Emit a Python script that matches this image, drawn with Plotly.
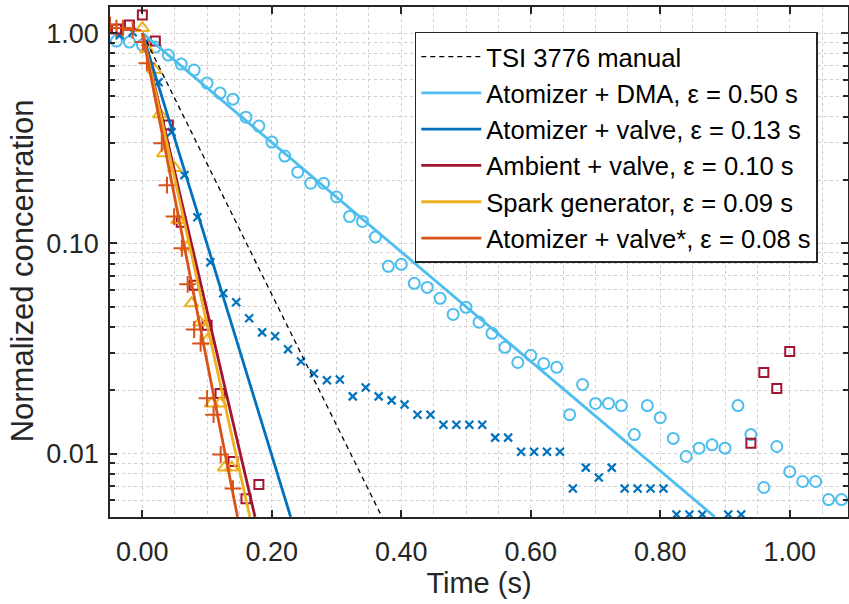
import plotly.graph_objects as go

# ---------------- data ----------------
# Atomizer + DMA (circles)
dma_t = [-0.04, -0.02, 0.00, 0.02, 0.04, 0.06, 0.08, 0.10, 0.12, 0.14, 0.16, 0.18, 0.20, 0.22, 0.24,
         0.26, 0.28, 0.30, 0.32, 0.34, 0.36, 0.38, 0.40, 0.42, 0.44, 0.46, 0.48, 0.50, 0.52, 0.54,
         0.56, 0.58, 0.60, 0.62, 0.64, 0.66, 0.68, 0.70, 0.72, 0.74, 0.76, 0.78, 0.80, 0.82, 0.84,
         0.86, 0.88, 0.90, 0.92, 0.94, 0.96, 0.98, 1.00, 1.02, 1.04, 1.06, 1.08]
dma_c = [0.916, 0.906, 0.877, 0.858, 0.786, 0.712, 0.667, 0.578, 0.518, 0.485, 0.398, 0.361, 0.303, 0.260, 0.218,
         0.193, 0.193, 0.166, 0.134, 0.127, 0.107, 0.0777, 0.0794, 0.0645, 0.0617, 0.0547, 0.0459, 0.0496, 0.0421, 0.0373,
         0.0320, 0.0271, 0.0293, 0.0268, 0.0257, 0.0153, 0.0213, 0.0173, 0.0173, 0.0169, 0.0123, 0.0169, 0.0148, 0.0118, 0.00968,
         0.0106, 0.0110, 0.0106, 0.0169, 0.0123, 0.00689, 0.0108, 0.00820, 0.00736, 0.00736, 0.00604, 0.00604]

# Atomizer + valve (x markers)
av_t = [-0.035, -0.015, 0.005, 0.025, 0.045, 0.065, 0.085, 0.105, 0.125, 0.145, 0.165, 0.185, 0.205, 0.225,
        0.245, 0.265, 0.285, 0.305, 0.325, 0.345, 0.365, 0.385, 0.405, 0.425, 0.445, 0.465, 0.485, 0.505,
        0.525, 0.545, 0.565, 0.585, 0.605, 0.625, 0.645, 0.665, 0.685, 0.705, 0.725, 0.745, 0.765, 0.785,
        0.805, 0.825, 0.845, 0.865, 0.905, 0.925]
av_c = [0.978, 1.01, 0.906, 0.584, 0.338, 0.211, 0.133, 0.0812, 0.0578, 0.0524, 0.0440, 0.0377, 0.0361, 0.0313,
        0.0274, 0.0240, 0.0223, 0.0225, 0.0187, 0.0206, 0.0187, 0.0179, 0.0171, 0.0153, 0.0153, 0.0137, 0.0137, 0.0137,
        0.0137, 0.0119, 0.0119, 0.0102, 0.0102, 0.0102, 0.0102, 0.00681, 0.00857, 0.00769, 0.00857, 0.00681, 0.00681, 0.00681,
        0.00681, 0.00513, 0.00513, 0.00513, 0.00513, 0.00513]

# Ambient + valve (squares)
amb_t = [-0.04, -0.02, 0.00, 0.02, 0.04, 0.06, 0.08, 0.10, 0.12, 0.14, 0.16, 0.18, 0.94, 0.96, 0.98, 1.00]
amb_c = [1.045, 1.092, 1.218, 0.916, 0.365, 0.126, 0.0631, 0.0407, 0.0193, 0.00916, 0.0061, 0.00712,
         0.0112, 0.0243, 0.0204, 0.0306]

# Spark generator (triangles)
sp_t = [0.000, 0.007, 0.019, 0.027, 0.033, 0.050, 0.055, 0.069, 0.076, 0.089, 0.100, 0.107, 0.120, 0.127, 0.138]
sp_c = [1.056, 0.839, 0.667, 0.411, 0.268, 0.228, 0.129, 0.0957, 0.0518, 0.0421, 0.0345, 0.0173, 0.0173, 0.00857, 0.00857]

# Atomizer + valve* (plus markers)
avs_t = [-0.05, -0.04, -0.03, -0.015, 0.001, 0.007, 0.030, 0.038, 0.049, 0.061, 0.070, 0.080, 0.090, 0.100,
         0.110, 0.121, 0.140]
avs_c = [1.092, 1.056, 1.056, 1.033, 0.906, 0.719, 0.299, 0.189, 0.134, 0.0947, 0.0638, 0.0389, 0.0334, 0.0183,
         0.0153, 0.00989, 0.00681]

# Fit lines: start and end points (where they leave the axes)
fit_names = ["TSI 3776 manual",
             "Atomizer + DMA, ε = 0.50 s",
             "Atomizer + valve, ε = 0.13 s",
             "Ambient + valve, ε = 0.10 s",
             "Spark generator, ε = 0.09 s",
             "Atomizer + valve*, ε = 0.08 s"]
fit_t = [[0.0, 0.370], [0.0, 0.884], [0.0, 0.229], [0.0, 0.174], [0.0, 0.166], [0.0, 0.147]]
fit_c = [[1.0, 0.005], [1.0, 0.005], [1.0, 0.005], [1.0, 0.005], [1.0, 0.005], [1.0, 0.005]]

x_ticks = [0.0, 0.2, 0.4, 0.6, 0.8, 1.0]
x_ticklabels = ["0.00", "0.20", "0.40", "0.60", "0.80", "1.00"]
y_ticks = [0.01, 0.1, 1.0]
y_ticklabels = ["0.01", "0.10", "1.00"]
y_minor = [0.006, 0.007, 0.008, 0.009, 0.02, 0.03, 0.04, 0.05, 0.06, 0.07, 0.08, 0.09,
           0.2, 0.3, 0.4, 0.5, 0.6, 0.7, 0.8, 0.9]

x_title = "Time (s)"
y_title = "Normalized concenration"

# ---------------- styling ----------------
C_DMA = "#4DBEEE"
C_AV = "#0072BD"
C_AMB = "#A2142F"
C_SP = "#EDB120"
C_AVS = "#D95319"
AX = "#262626"
GRID = "#cfcfcf"
FONT = "Arial, Liberation Sans, sans-serif"

fig = go.Figure()

# markers
fig.add_trace(go.Scatter(x=dma_t, y=dma_c, mode="markers", showlegend=False,
                         marker=dict(symbol="circle-open", size=11, color=C_DMA, line=dict(width=2, color=C_DMA))))
fig.add_trace(go.Scatter(x=av_t, y=av_c, mode="markers", showlegend=False,
                         marker=dict(symbol="x-thin-open", size=8, color=C_AV, line=dict(width=2.2, color=C_AV))))
fig.add_trace(go.Scatter(x=amb_t, y=amb_c, mode="markers", showlegend=False,
                         marker=dict(symbol="square-open", size=9, color=C_AMB, line=dict(width=2, color=C_AMB))))
fig.add_trace(go.Scatter(x=sp_t, y=sp_c, mode="markers", showlegend=False,
                         marker=dict(symbol="triangle-up-open", size=12, color=C_SP, line=dict(width=2, color=C_SP))))
fig.add_trace(go.Scatter(x=avs_t, y=avs_c, mode="markers", showlegend=False,
                         marker=dict(symbol="cross-thin-open", size=12, color=C_AVS, line=dict(width=2, color=C_AVS))))

# fit lines (legend entries)
line_styles = [dict(color="#000000", width=1.3, dash="5px,4px"),
               dict(color=C_DMA, width=2.8),
               dict(color=C_AV, width=2.8),
               dict(color=C_AMB, width=2.8),
               dict(color=C_SP, width=2.8),
               dict(color=C_AVS, width=2.8)]
for name, tt, cc, ls in zip(fit_names, fit_t, fit_c, line_styles):
    fig.add_trace(go.Scatter(x=tt, y=cc, mode="lines", name=name, line=ls))

fig.update_layout(
    width=849, height=604,
    margin=dict(l=110, r=1, t=7, b=87),
    paper_bgcolor="white", plot_bgcolor="white",
    font=dict(family=FONT, size=26, color=AX),
    legend=dict(x=0.413, y=0.951, xanchor="left", yanchor="top",
                bgcolor="white", bordercolor=AX, borderwidth=1.5,
                font=dict(family=FONT, size=25.6, color="#000000"),
                tracegroupgap=0, itemwidth=60),
    showlegend=True,
    annotations=[dict(text=y_title, textangle=-90, xref="paper", yref="paper",
                      x=-0.119, y=0.482, xanchor="center", yanchor="middle",
                      showarrow=False, font=dict(family=FONT, size=31, color=AX))],
)

fig.update_xaxes(
    range=[-0.05, 1.09], automargin=False,
    tickvals=x_ticks, ticktext=x_ticklabels,
    ticks="inside", ticklen=7, tickwidth=1.5, tickcolor=AX,
    showline=True, linecolor=AX, linewidth=1.5, mirror="ticks",
    showgrid=True, gridcolor=GRID, griddash="dot", gridwidth=1,
    minor=dict(dtick=0.05, tick0=0, showgrid=True, gridcolor=GRID, griddash="dot", ticks=""),
    zeroline=False,
    tickfont=dict(size=27, color=AX), ticklabelstandoff=10,
    title=dict(text=x_title, font=dict(size=29, color=AX), standoff=0),
)
fig.update_yaxes(
    type="log", automargin=False,
    range=[-2.302, 0.124],
    tickvals=y_ticks, ticktext=y_ticklabels,
    ticks="inside", ticklen=7, tickwidth=1.5, tickcolor=AX,
    showline=True, linecolor=AX, linewidth=1.5, mirror="ticks",
    showgrid=True, gridcolor=GRID, griddash="dot", gridwidth=1,
    minor=dict(tickvals=y_minor, ticks="inside", ticklen=5, tickcolor=AX,
               showgrid=True, gridcolor=GRID, griddash="dot"),
    zeroline=False,
    tickfont=dict(size=27, color=AX), ticklabelstandoff=4,
)

fig.write_html("out.html", config={"displayModeBar": False},
               post_script="document.body.style.margin='0';document.body.style.padding='0';")
